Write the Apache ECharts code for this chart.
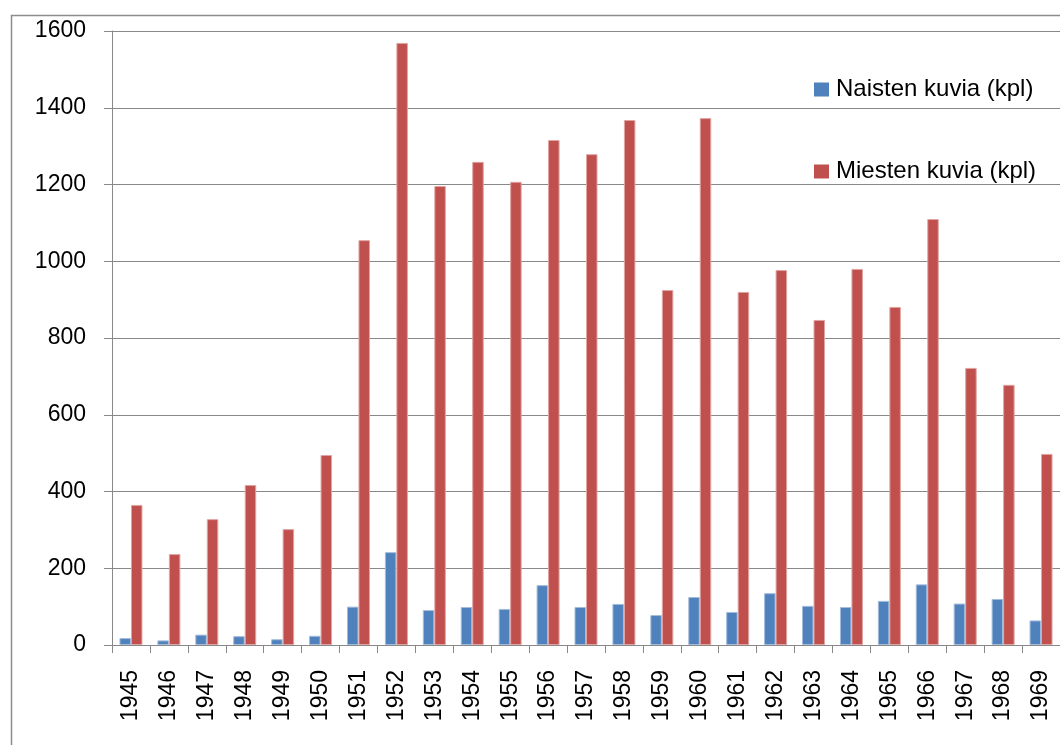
<!DOCTYPE html>
<html>
<head>
<meta charset="utf-8">
<script src="https://cdn.jsdelivr.net/npm/echarts@6/dist/echarts.min.js"></script>
<style>
html,body{margin:0;padding:0;background:#fff;}
#chart{width:1060px;height:745px;}
</style>
</head>
<body>
<div id="chart"></div>
<script>
const years = ['1945','1946','1947','1948','1949','1950','1951','1952','1953','1954','1955','1956','1957','1958','1959','1960','1961','1962','1963','1964','1965','1966','1967','1968','1969'];
const naiset = [18,12,27,23,15,24,100,242,91,99,94,156,99,107,78,125,86,135,102,99,115,158,108,120,64];
const miehet = [365,237,328,417,302,495,1055,1569,1196,1259,1207,1316,1279,1368,925,1373,920,977,847,980,881,1110,722,678,498];
const yTicks = {min:0, max:1600, interval:200};
const seriesNames = ['Naisten kuvia (kpl)','Miesten kuvia (kpl)'];

const font = 'Liberation Sans';
const chart = echarts.init(document.getElementById('chart'), null, {renderer:'canvas'});
chart.setOption({
  animation:false,
  backgroundColor:'#ffffff',
  graphic:[{
    type:'rect', left:9, top:13, z:-1,
    shape:{x:0,y:0,width:1100,height:800},
    style:{fill:'none', stroke:'#8c8c8c', lineWidth:1.5}
  }],
  grid:{left:112, top:31, bottom:100, right:-9.5},
  legend:{
    orient:'vertical', left:814, top:77, padding:0,
    icon:'rect',
    itemWidth:15, itemHeight:14, itemGap:57,
    itemStyle:{borderWidth:0},
    textStyle:{fontFamily:font, fontSize:24, color:'#000', lineHeight:25, padding:[0,0,0,2]},
    data:seriesNames
  },
  xAxis:{
    type:'category', data:years,
    axisLine:{lineStyle:{color:'#888', width:1}},
    axisTick:{show:true, length:8, lineStyle:{color:'#888'}},
    axisLabel:{rotate:90, margin:25, fontFamily:font, fontSize:23, color:'#000', interval:0}
  },
  yAxis:{
    type:'value', min:yTicks.min, max:yTicks.max, interval:yTicks.interval,
    axisLine:{show:true, lineStyle:{color:'#888', width:1}},
    axisTick:{show:true, inside:false, length:8, lineStyle:{color:'#888'}},
    splitLine:{lineStyle:{color:'#888', width:1}},
    axisLabel:{margin:26, fontFamily:font, fontSize:23, color:'#000', formatter:function(v){return String(v);}}
  },
  series:[
    {name:seriesNames[0], type:'bar', data:naiset, barWidth:11.5, barGap:'0%',
     itemStyle:{color:'#4F81BD', borderColor:'#a3bcdc', borderWidth:1}},
    {name:seriesNames[1], type:'bar', data:miehet, barWidth:11.5, barGap:'0%',
     itemStyle:{color:'#C0504D', borderColor:'#e0a4a2', borderWidth:1}}
  ]
});
</script>
</body>
</html>
